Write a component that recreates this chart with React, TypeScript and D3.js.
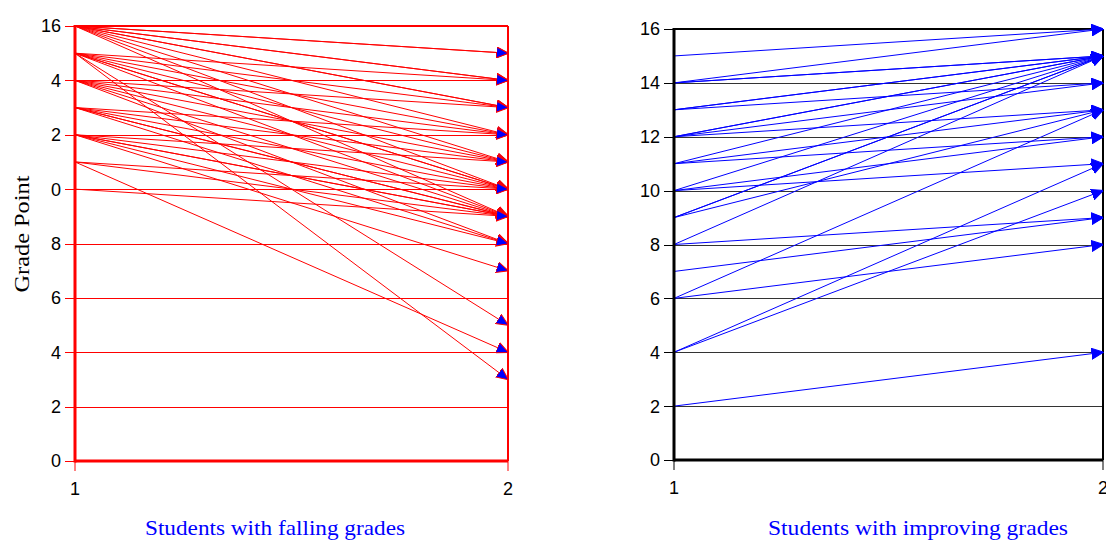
import React from "react";
import * as d3 from "d3";

// ---- Data ----
const xCategories = [1, 2];
const xTickLabels = ["1", "2"];
const yTickValues = [0, 2, 4, 6, 8, 10, 12, 14, 16];
const fallingTickLabels = ["0", "2", "4", "6", "8", "0", "2", "4", "16"];
const improvingTickLabels = ["0", "2", "4", "6", "8", "10", "12", "14", "16"];

// Students with falling grades: grade at time 1 -> grade at time 2
const fallingFrom = [
  16, 16, 16, 16, 16, 16, 16, 16, 16, 16,
  15, 15, 15, 15, 15, 15, 15, 15, 15,
  14, 14, 14, 14, 14, 14,
  13, 13, 13, 13, 13, 13,
  12, 12, 12, 12, 12, 12,
  11, 11, 11,
  10,
];
const fallingTo = [
  15, 15, 14, 14, 13, 13, 12, 11, 10, 9,
  14, 13, 12, 11, 10, 10, 9, 5, 3,
  13, 12, 11, 10, 9, 8,
  12, 11, 10, 9, 9, 8,
  11, 10, 9, 9, 8, 7,
  10, 9, 4,
  9,
];

// Students with improving grades
const improvingFrom = [
  15, 14, 14, 14, 13, 13, 13, 12, 12, 12, 11, 11, 10, 10, 10,
  9, 9, 9, 8, 8, 7, 6, 6, 4, 4, 2, 12, 11,
];
const improvingTo = [
  16, 16, 15, 15, 15, 15, 14, 15, 14, 13, 13, 12, 12, 11, 15,
  15, 15, 13, 15, 9, 9, 13, 8, 11, 10, 4, 15, 15,
];

const W = 1106;
const H = 540;

type PanelProps = {
  id: string;
  left: number;
  right: number;
  top: number;
  bottom: number;
  from: number[];
  to: number[];
  tickLabels: string[];
  axisColor: string;
  gridColor: string;
  lineColor: string;
  arrowStroke: string;
  title: string;
  titleX: number;
  titleLength: number;
};

function Panel(p: PanelProps) {
  const x = d3.scaleLinear().domain([1, 2]).range([p.left, p.right]);
  const y = d3.scaleLinear().domain([0, 16]).range([p.bottom, p.top]);
  const pairs = p.from.map((f, i) => ({ f, t: p.to[i] }));
  const line = d3.line<[number, number]>().x((d) => x(d[0])).y((d) => y(d[1]));
  return (
    <g>
      <defs>
        <marker
          id={p.id}
          viewBox="0 0 12 12"
          refX="11.5"
          refY="6"
          markerWidth="12"
          markerHeight="12"
          markerUnits="userSpaceOnUse"
          orient="auto"
        >
          <path d="M0,0.5 L12,6 L0,11.5 Z" fill="#0000ff" stroke={p.arrowStroke} strokeWidth={1} />
        </marker>
      </defs>
      {/* gridlines */}
      {yTickValues.map((v) => (
        <line
          key={"g" + v}
          x1={p.left}
          x2={p.right}
          y1={Math.round(y(v)) + 0.5}
          y2={Math.round(y(v)) + 0.5}
          stroke={p.gridColor}
          strokeWidth={1}
        />
      ))}
      {/* y ticks */}
      {yTickValues.map((v, i) => (
        <g key={"t" + v}>
          <line
            x1={p.left - 10}
            x2={p.left}
            y1={Math.round(y(v)) + 0.5}
            y2={Math.round(y(v)) + 0.5}
            stroke={p.axisColor}
            strokeWidth={1}
          />
          <text
            x={p.left - 14}
            y={y(v)}
            dy="0.36em"
            textAnchor="end"
            fontFamily="'Liberation Sans', Arial, sans-serif"
            fontSize={18}
            fill="#000"
          >
            {p.tickLabels[i]}
          </text>
        </g>
      ))}
      {/* x ticks */}
      {xCategories.map((c, i) => (
        <g key={"x" + c}>
          <line x1={x(c)} x2={x(c)} y1={p.bottom} y2={p.bottom + 10} stroke={p.axisColor} strokeWidth={1} />
          <text
            x={x(c)}
            y={p.bottom + 34}
            textAnchor="middle"
            fontFamily="'Liberation Sans', Arial, sans-serif"
            fontSize={18}
            fill="#000"
          >
            {xTickLabels[i]}
          </text>
        </g>
      ))}
      {/* frame */}
      <line x1={p.left} x2={p.right} y1={p.top} y2={p.top} stroke={p.axisColor} strokeWidth={2} />
      <line x1={p.right} x2={p.right} y1={p.top} y2={p.bottom} stroke={p.axisColor} strokeWidth={2} />
      {/* data lines */}
      {pairs.map((d, i) => (
        <path
          key={"l" + i}
          d={line([
            [1, d.f],
            [2, d.t],
          ]) as string}
          fill="none"
          stroke={p.lineColor}
          strokeWidth={1}
          markerEnd={`url(#${p.id})`}
        />
      ))}
      <line x1={p.left} x2={p.left} y1={p.top - 1} y2={p.bottom + 1.5} stroke={p.axisColor} strokeWidth={3} />
      <line x1={p.left} x2={p.right} y1={p.bottom} y2={p.bottom} stroke={p.axisColor} strokeWidth={3} />
      <text
        x={p.titleX}
        y={535}
        textAnchor="middle"
        fontFamily="'Liberation Serif', 'Times New Roman', serif"
        fontSize={22}
        textLength={p.titleLength}
        lengthAdjust="spacingAndGlyphs"
        fill="#0000ff"
      >
        {p.title}
      </text>
    </g>
  );
}

export default function App() {
  return (
    <svg
      width={W}
      height={H}
      style={{ position: "absolute", left: 0, top: 0, background: "#fff" }}
    >
      <rect x={0} y={0} width={W} height={H} fill="#fff" />
      <Panel
        id="arrL"
        left={75}
        right={508}
        top={26}
        bottom={461}
        from={fallingFrom}
        to={fallingTo}
        tickLabels={fallingTickLabels}
        axisColor="#ff0000"
        gridColor="#ff0000"
        lineColor="#ff0000"
        arrowStroke="#ff0000"
        title="Students with falling grades"
        titleX={275}
        titleLength={260}
      />
      <Panel
        id="arrR"
        left={674}
        right={1103}
        top={29}
        bottom={460}
        from={improvingFrom}
        to={improvingTo}
        tickLabels={improvingTickLabels}
        axisColor="#000000"
        gridColor="#333333"
        lineColor="#0000ff"
        arrowStroke="#0000ff"
        title="Students with improving grades"
        titleX={918}
        titleLength={300}
      />
      <text
        transform={`translate(29, 234) rotate(-90)`}
        textAnchor="middle"
        fontFamily="'Liberation Serif', 'Times New Roman', serif"
        fontSize={22}
        textLength={117}
        lengthAdjust="spacingAndGlyphs"
        fill="#000"
      >
        Grade Point
      </text>
    </svg>
  );
}
